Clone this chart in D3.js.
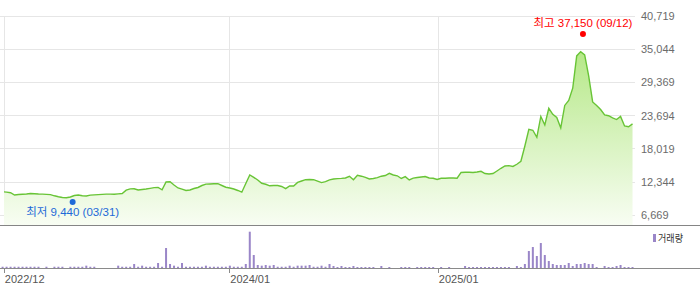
<!DOCTYPE html>
<html>
<head>
<meta charset="utf-8">
<script src="https://cdn.jsdelivr.net/npm/d3@7"></script>
<style>
  body { margin: 0; background: #fff; }
  text { font-family: "Liberation Sans", "Noto Sans CJK KR", sans-serif; }
</style>
</head>
<body>
<div id="chart"></div>
<script>
// weekly closes, one per week (week starting Monday)
var weeks = d3.timeMonday.range(new Date(2022, 10, 28), new Date(2025, 11, 9));

var closes = [
  10700, 10620, 10530, 10140, 10220, 10260, 10310, 10400, 10360, 10310,
  10280, 10240, 10210, 10000, 9830, 9710, 9680, 9800, 10050, 10140,
  10020, 9970, 10120, 10160, 10210, 10240, 10280, 10290, 10260, 10330,
  10400, 10960, 11180, 11200, 10990, 11080, 11160, 11270, 11390, 11420,
  11030, 12360, 12410, 11850, 11340, 11130, 10910, 10990, 11250, 11420,
  11760, 11990, 12020, 12050, 12070, 11760, 11460, 11340, 11160, 10910,
  10620, 12090, 13560, 13160, 12700, 12140, 11970, 11710, 11760, 11760,
  11590, 11220, 11680, 11680, 12280, 12530, 12750, 12790, 12750, 12520,
  12260, 12410, 12720, 12860, 12930, 12980, 13050, 13340, 12750, 13510,
  13350, 13160, 12870, 12960, 13100, 13350, 13470, 13850, 13560, 13420,
  12960, 13270, 12700, 13010, 13130, 13220, 13300, 13050, 12990, 12790,
  12990, 13010, 13050, 13050, 13010, 13990, 14020, 14020, 13990, 14070,
  14190, 13810, 13730, 13800, 14240, 14700, 15100, 15150, 15010, 15390,
  15900, 18510, 21340, 21200, 20000, 23560, 22100, 24960, 23930, 23390,
  21590, 25440, 26290, 28380, 33900, 34630, 34070, 30480, 26040, 25440,
  24750, 23810, 23680, 23300, 23030, 23560, 21930, 21800, 22280
];

// weekly volume (thousand shares)
var volumes = [
  190, 190, 190, 190, 190, 190, 190, 190, 190, 190,
  0, 190, 0, 190, 190, 190, 0, 190, 190, 190,
  190, 350, 190, 190, 0, 0, 0, 0, 0, 350,
  190, 190, 190, 600, 190, 350, 190, 190, 190, 750,
  190, 3000, 600, 350, 190, 750, 190, 190, 190, 190,
  190, 350, 190, 190, 190, 190, 190, 350, 190, 190,
  190, 600, 5450, 1950, 450, 350, 450, 350, 450, 190,
  190, 190, 350, 190, 350, 350, 350, 450, 190, 190,
  350, 190, 600, 300, 150, 300, 150, 150, 300, 150,
  150, 150, 150, 150, 0, 300, 0, 150, 0, 0,
  150, 150, 150, 0, 150, 150, 150, 150, 150, 0,
  150, 0, 150, 0, 0, 0, 300, 150, 150, 150,
  150, 150, 150, 150, 150, 150, 150, 150, 0, 300,
  150, 600, 2550, 3150, 1800, 3750, 1950, 1050, 600, 450,
  450, 450, 750, 300, 600, 600, 750, 600, 600, 150,
  0, 300, 150, 150, 300, 450, 150, 150, 150
];

var priceTicks = [6669, 12344, 18019, 23694, 29369, 35044, 40719];
var dateTicks = [new Date(2022, 11, 1), new Date(2024, 0, 1), new Date(2025, 0, 1)];
var dateTickLabels = ["2022/12", "2024/01", "2025/01"];

var high = { value: 37150, date: new Date(2025, 8, 12), label: "최고 37,150 (09/12)" };
var low = { value: 9440, date: new Date(2023, 2, 31), label: "최저 9,440 (03/31)" };

var data = weeks.map(function(d, i) {
  return { date: d, close: closes[i], volume: volumes[i] };
});

var width = 700, height = 289;
var plotLeft = 4, plotRight = 632, plotTop = 16, plotBottom = 225;
var volBase = 268;

var x = d3.scaleTime()
  .domain([dateTicks[0], dateTicks[2]])
  .range([4.3, 438.3]);
var y = d3.scaleLinear()
  .domain([6669, 40719])
  .range([215.3, plotTop]);
var yv = d3.scaleLinear()
  .domain([0, d3.max(volumes)])
  .range([volBase, volBase - 36.3]);

var svg = d3.select("#chart").append("svg")
  .attr("width", width)
  .attr("height", height);

var defs = svg.append("defs");
var grad = defs.append("linearGradient")
  .attr("id", "fillGrad")
  .attr("gradientUnits", "userSpaceOnUse")
  .attr("x1", 0).attr("y1", plotTop)
  .attr("x2", 0).attr("y2", plotBottom);
grad.append("stop").attr("offset", "0%").attr("stop-color", "#a8e472");
grad.append("stop").attr("offset", "100%").attr("stop-color", "#f8fdf3");

defs.append("clipPath").attr("id", "plotClip")
  .append("rect")
  .attr("x", plotLeft).attr("y", 0)
  .attr("width", plotRight - plotLeft + 2).attr("height", plotBottom);

// grid
svg.append("g").selectAll("line")
  .data(priceTicks)
  .enter().append("line")
  .attr("x1", 0).attr("x2", 635)
  .attr("y1", function(d) { return y(d); })
  .attr("y2", function(d) { return y(d); })
  .attr("stroke", "#e6e6e6")
  .attr("shape-rendering", "crispEdges");

svg.append("g").selectAll("line")
  .data(dateTicks)
  .enter().append("line")
  .attr("x1", function(d) { return x(d); })
  .attr("x2", function(d) { return x(d); })
  .attr("y1", plotTop).attr("y2", plotBottom)
  .attr("stroke", "#e6e6e6")
  .attr("shape-rendering", "crispEdges");

// price area + line
var area = d3.area()
  .x(function(d) { return x(d.date); })
  .y0(plotBottom)
  .y1(function(d) { return y(d.close); });

var line = d3.line()
  .x(function(d) { return x(d.date); })
  .y(function(d) { return y(d.close); });

var pg = svg.append("g").attr("clip-path", "url(#plotClip)");
pg.append("path")
  .datum(data)
  .attr("d", area)
  .attr("fill", "url(#fillGrad)");
pg.append("path")
  .datum(data)
  .attr("d", line)
  .attr("fill", "none")
  .attr("stroke", "#68c436")
  .attr("stroke-width", 1.4);

// y labels
svg.append("g").selectAll("text")
  .data(priceTicks)
  .enter().append("text")
  .attr("x", 641)
  .attr("y", function(d) { return y(d) + 4; })
  .attr("font-size", 11)
  .attr("fill", "#6b6b6b")
  .text(function(d) { return d3.format(",")(d); });

// high / low markers
var hx = x(high.date), hy = y(high.value) - 3;
svg.append("circle").attr("cx", hx).attr("cy", hy).attr("r", 3).attr("fill", "#ff0000");
svg.append("text")
  .attr("x", hx).attr("y", hy - 7.3)
  .attr("text-anchor", "middle")
  .attr("font-size", 11)
  .attr("fill", "#ff0000")
  .attr("textLength", 99).attr("lengthAdjust", "spacingAndGlyphs")
  .text(high.label);

var lx = x(low.date), ly = y(low.value) + 3;
svg.append("circle").attr("cx", lx).attr("cy", ly).attr("r", 3).attr("fill", "#1e6ad8");
svg.append("text")
  .attr("x", lx).attr("y", ly + 13.7)
  .attr("text-anchor", "middle")
  .attr("font-size", 11)
  .attr("fill", "#1e6ad8")
  .attr("textLength", 93).attr("lengthAdjust", "spacingAndGlyphs")
  .text(low.label);

// divider between price and volume
svg.append("line")
  .attr("x1", 0).attr("x2", width)
  .attr("y1", plotBottom).attr("y2", plotBottom)
  .attr("stroke", "#858585")
  .attr("shape-rendering", "crispEdges");

// volume bars
svg.append("g").selectAll("rect")
  .data(data.filter(function(d) { return d.volume > 0; }))
  .enter().append("rect")
  .attr("x", function(d) { return x(d.date) - 1; })
  .attr("width", 2)
  .attr("y", function(d) { return yv(d.volume); })
  .attr("height", function(d) { return volBase - yv(d.volume); })
  .attr("fill", "#9a86c8");

svg.append("line")
  .attr("x1", 0).attr("x2", width)
  .attr("y1", volBase).attr("y2", volBase)
  .attr("stroke", "#8a8a8a")
  .attr("shape-rendering", "crispEdges");

// x ticks + labels
svg.append("g").selectAll("line")
  .data(dateTicks)
  .enter().append("line")
  .attr("x1", function(d) { return x(d); })
  .attr("x2", function(d) { return x(d); })
  .attr("y1", volBase).attr("y2", volBase + 5)
  .attr("stroke", "#8a8a8a")
  .attr("shape-rendering", "crispEdges");

svg.append("g").selectAll("text")
  .data(dateTicks)
  .enter().append("text")
  .attr("x", function(d) { return x(d) + 0.5; })
  .attr("y", 283)
  .attr("font-size", 11)
  .attr("fill", "#555")
  .text(function(d, i) { return dateTickLabels[i]; });

// legend
svg.append("rect")
  .attr("x", 653).attr("y", 234)
  .attr("width", 3).attr("height", 8)
  .attr("fill", "#9a86c8");
svg.append("text")
  .attr("x", 658).attr("y", 241.5)
  .attr("font-size", 10)
  .attr("fill", "#333")
  .attr("textLength", 25).attr("lengthAdjust", "spacingAndGlyphs")
  .text("거래량");
</script>
</body>
</html>
